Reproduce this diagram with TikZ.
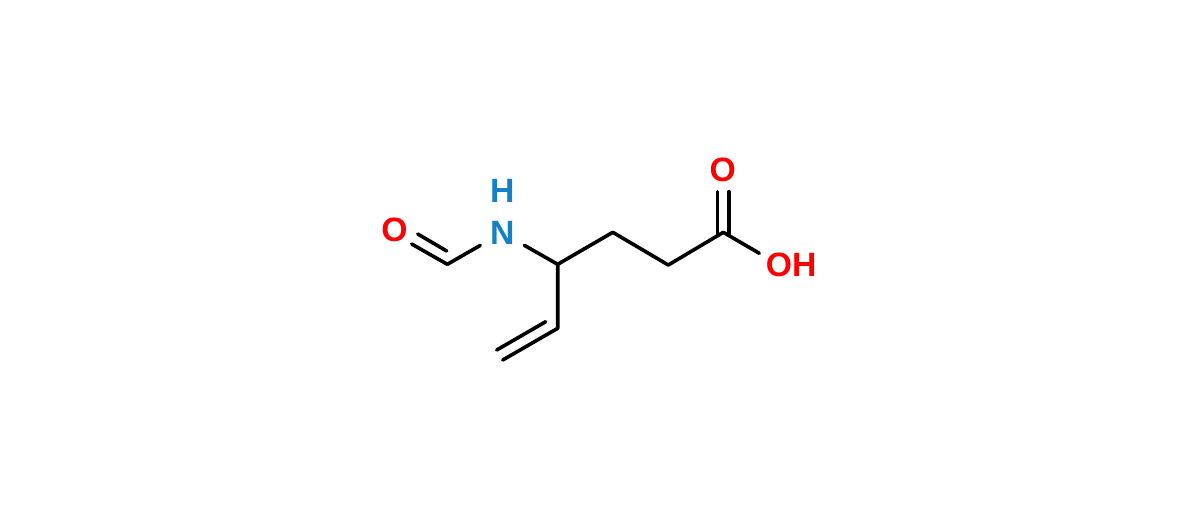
\documentclass[tikz,border=0pt]{standalone}
\usepackage{fontspec}
\setmainfont{Liberation Sans}
\definecolor{oxy}{HTML}{FF0000}
\definecolor{nit}{HTML}{1580C4}
\tikzset{
  bond/.style={draw=black,line width=2.05pt,line cap=round,line join=round},
  atomlabel/.style={inner sep=0pt,outer sep=0pt,font=\fontsize{19.2pt}{19.2pt}\selectfont\bfseries},
  oxygen/.style={atomlabel,text=oxy},
  nitrogen/.style={atomlabel,text=nit,minimum width=44*0.02cm,minimum height=44*0.02cm}
}
\begin{document}
\begin{tikzpicture}[x=0.02cm,y=-0.02cm]
\useasboundingbox (0,0) rectangle (1200,511);
% carbon positions
\coordinate (cho) at (447.3,264.3);
\coordinate (c4) at (557.7,264.3);
\coordinate (c3) at (612.8,232.3);
\coordinate (c2) at (668.3,265);
\coordinate (c1) at (723.3,232.3);
\coordinate (v1) at (557.7,328.3);
\coordinate (v2) at (502.7,360);
\coordinate (v1b) at (545.7,321.7);
\coordinate (v2b) at (496.7,350);
\coordinate (choO) at (411.7,244);
\coordinate (choIa) at (446.7,251);
\coordinate (choIb) at (417.7,234);
\coordinate (c1a) at (717.3,234);
\coordinate (c1aO) at (717.3,191.7);
\coordinate (c1b) at (728.7,234);
\coordinate (c1bO) at (728.7,191.7);
\coordinate (ohend) at (759.3,253.3);
% atom labels
\node[oxygen] (o1) at (394.5,229.5) {O};
\node[nitrogen] (n) at (502.3,232.8) {N};
\node[atomlabel,text=nit] (h) at (502.3,191) {H};
\node[oxygen] (o2) at (722.7,169.8) {O};
\node[oxygen] (oh) at (791.2,264.8) {OH};
% bonds
\draw[bond] (cho) -- (n);
\draw[bond] (n) -- (c4);
\draw[bond] (c4) -- (c3) -- (c2) -- (c1);
\draw[bond] (c1) -- (ohend);
\draw[bond] (c4) -- (v1) -- (v2);
\draw[bond] (v1b) -- (v2b);
\draw[bond] (cho) -- (choO);
\draw[bond] (choIa) -- (choIb);
\draw[bond] (c1a) -- (c1aO);
\draw[bond] (c1b) -- (c1bO);
\end{tikzpicture}
\end{document}
